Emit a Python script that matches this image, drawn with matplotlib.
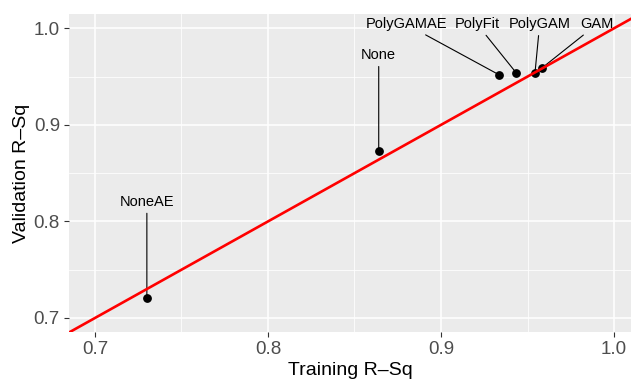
import numpy as np
import matplotlib
matplotlib.use("Agg")
import matplotlib.pyplot as plt
from matplotlib.ticker import MultipleLocator

plt.rcParams["font.family"] = ["Liberation Sans", "DejaVu Sans"]

# model fits: training vs validation R-squared
models = ["NoneAE", "None", "PolyGAMAE", "PolyFit", "PolyGAM", "GAM"]
train_r2 = [0.730, 0.864, 0.9335, 0.9434, 0.9543, 0.9584]
valid_r2 = [0.7207, 0.8728, 0.9519, 0.9540, 0.9536, 0.9590]
# repelled label positions (data coords)
label_x = [0.730, 0.864, 0.880, 0.921, 0.957, 0.990]
label_y = [0.820, 0.972, 1.004, 1.004, 1.004, 1.004]

fig = plt.figure(figsize=(6.31, 3.79), dpi=100)
ax = fig.add_axes([69 / 631, 1 - 332 / 379, 1 - 69 / 631, (332 - 14) / 379])
ax.set_facecolor("#EBEBEB")
for s in ax.spines.values():
    s.set_visible(False)

ax.set_xlim(0.685, 1.0098)
ax.set_ylim(0.6855, 1.0148)
ax.xaxis.set_major_locator(MultipleLocator(0.1))
ax.xaxis.set_minor_locator(MultipleLocator(0.05))
ax.yaxis.set_major_locator(MultipleLocator(0.1))
ax.yaxis.set_minor_locator(MultipleLocator(0.05))
ax.grid(which="major", color="white", lw=1.1)
ax.grid(which="minor", color="white", lw=0.55)
ax.set_axisbelow(True)
ax.tick_params(which="major", length=3.5, width=0.8, color="#333333",
               labelsize=13.5, labelcolor="#4D4D4D", pad=3)
ax.tick_params(which="minor", length=0)
ax.xaxis.set_major_formatter(matplotlib.ticker.FormatStrFormatter("%.1f"))
ax.yaxis.set_major_formatter(matplotlib.ticker.FormatStrFormatter("%.1f"))

ax.set_xlabel("Training R\u2013Sq", fontsize=14, labelpad=3)
ax.set_ylabel("Validation R\u2013Sq", fontsize=14, labelpad=3)

ax.scatter(train_r2, valid_r2, s=28, color="black", zorder=3)
for name, x, y, lx, ly in zip(models, train_r2, valid_r2, label_x, label_y):
    ax.annotate(name, xy=(x, y), xytext=(lx, ly), ha="center", va="center",
                fontsize=10.5, color="black", zorder=4,
                arrowprops=dict(arrowstyle="-", color="black", lw=0.8,
                                shrinkA=1, shrinkB=0))

ax.axline((0.7, 0.7), slope=1, color="#FF0000", lw=1.9, zorder=5)

fig.savefig("out.png", dpi=100)
